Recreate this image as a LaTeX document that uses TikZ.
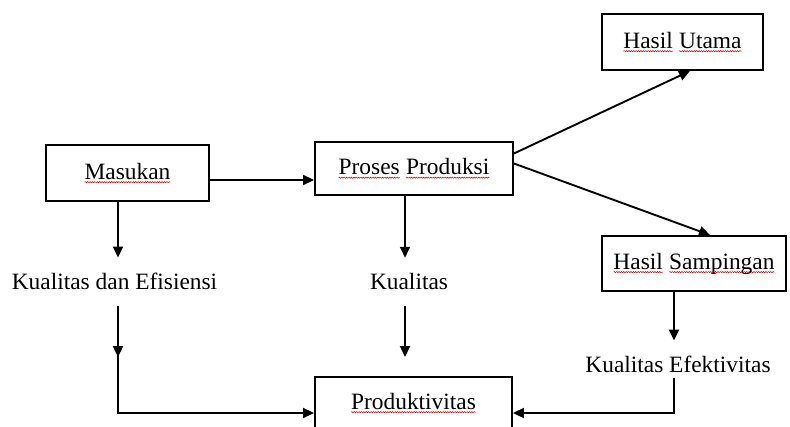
\documentclass[tikz,border=0pt]{standalone}
\usepackage{fontspec}
\setmainfont{Liberation Serif}
\usepackage{tikz}
\usetikzlibrary{positioning,arrows.meta,decorations.markings,decorations.pathmorphing}
\newcommand{\salah}[1]{\tikz[baseline=(w.base), x=1cm, y=1cm]{\node[draw=none, minimum width=0pt, minimum height=0pt, inner sep=0pt, outer sep=0pt] (w) {#1};
 \draw[red!75!black, line width=0.5pt, decorate, decoration={snake, amplitude=0.6pt, segment length=2.4pt}] ([yshift=-3pt]w.base west) -- ([yshift=-3pt]w.base east);}}
\tikzset{
 kotak/.style={draw, line width=1.9pt, inner sep=0pt},
 teks/.style={inner sep=0pt, outer ysep=16pt},
 panah/.style={-{Triangle[length=11pt,width=10pt]}, line width=1.9pt},
 tengah/.style={postaction=decorate, decoration={markings, mark=at position #1 with {\arrow{Triangle[length=11pt,width=10pt]}}}}
}

\begin{document}
\begin{tikzpicture}[x=1pt, y=-1pt, font=\fontsize{23.4}{28}\selectfont]
\useasboundingbox (0,0) rectangle (790,427);
% kotak
\node[kotak, minimum width=163pt, minimum height=56pt] (masukan) at (127.5,173) {\salah{Masukan}};
\node[kotak, minimum width=198pt, minimum height=53pt] (proses) at (414,168.5) {\salah{Proses} \salah{Produksi}};
\node[kotak, minimum width=161pt, minimum height=56pt] (utama) at (682.5,42) {\salah{Hasil} \salah{Utama}};
\node[kotak, minimum width=184pt, minimum height=55pt] (samping) at (694,263.5) {\salah{Hasil} \salah{Sampingan}};
\node[kotak, minimum width=197pt, minimum height=52pt] (produk) at (413.5,403) {\salah{Produktivitas}};
% teks
\node[teks, anchor=base] (efisien) at (114.5,290) {Kualitas dan Efisiensi};
\node[teks, anchor=base] (kualitas) at (409,290) {Kualitas};
\node[teks, anchor=base] (efektif) at (678,373) {Kualitas Efektivitas};
% panah
\draw[panah] ([yshift=-7pt]masukan.east) -- ([yshift=-7pt]masukan.east -| proses.west);
\draw[panah] ([xshift=-9.5pt]masukan.south) -- ([xshift=3.5pt]efisien.north);
\draw[line width=1.9pt, tengah=0.168, -{Triangle[length=11pt,width=10pt]}] ([xshift=3.5pt]efisien.south) |- ([yshift=-10pt]produk.west);
\draw[panah] ([xshift=-9pt]proses.south) -- ([xshift=-4pt]kualitas.north);
\draw[panah, shorten >=19pt] ([xshift=-4pt]kualitas.south) -- ([xshift=-8.5pt]produk.north);
\draw[panah] ([yshift=15pt]proses.east) -- ([xshift=7.5pt]utama.south);
\draw[panah] ([yshift=5pt]proses.east) -- ([xshift=16pt]samping.north);
\draw[panah] ([xshift=-20pt]samping.south) -- ([xshift=-4pt]efektif.north);
\draw[panah] ([xshift=-4pt,yshift=-5pt]efektif.base) |- ([yshift=-10pt]produk.east);
\end{tikzpicture}
\end{document}
